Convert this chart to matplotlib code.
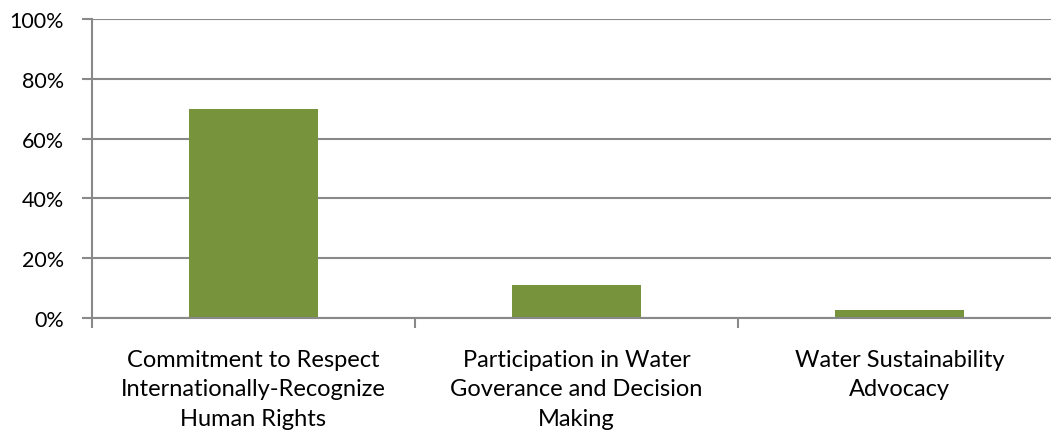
import matplotlib
matplotlib.use('Agg')
import matplotlib.pyplot as plt
from matplotlib.ticker import FuncFormatter
import numpy as np

matplotlib.rcParams['font.family'] = ['Lato', 'DejaVu Sans']
matplotlib.rcParams['font.size'] = 17

# 데이터
categories = ['Commitment to Respect\nInternationally-Recognize\nHuman Rights',
              'Participation in Water\nGoverance and Decision\nMaking',
              'Water Sustainability\nAdvocacy']
values = [0.70, 0.11, 0.027]
yticks = [0, 0.2, 0.4, 0.6, 0.8, 1.0]

W, H = 1051, 439
fig = plt.figure(figsize=(W / 100, H / 100), dpi=100)
ax = fig.add_axes([92 / W, 120 / H, 969 / W, 299 / H])

x = np.arange(len(categories))
ax.bar(x, values, width=0.4, color='#77933C', zorder=3)

gray = '#898989'
ax.set_xlim(-0.5, 2.5)
ax.set_ylim(0, 1.0)
ax.set_yticks(yticks)
ax.yaxis.set_major_formatter(FuncFormatter(lambda v, p: '%d%%' % round(v * 100)))
ax.grid(axis='y', color=gray, lw=1.5, zorder=1)

ax.set_xticks(x)
ax.set_xticklabels(categories, linespacing=1.5)
ax.set_xticks([-0.5, 0.5, 1.5, 2.5], minor=True)
ax.tick_params(axis='x', which='major', length=0, pad=22)
ax.tick_params(axis='x', which='minor', length=7, width=1.5, color=gray)
ax.tick_params(axis='y', length=7, width=1.5, color=gray, pad=13, labelsize=15.5)

for s in ['top', 'right']:
    ax.spines[s].set_visible(False)
for s in ['left', 'bottom']:
    ax.spines[s].set_color(gray)
    ax.spines[s].set_linewidth(1.5)
ax.spines['bottom'].set_zorder(4)

fig.savefig('out.png', dpi=100)
